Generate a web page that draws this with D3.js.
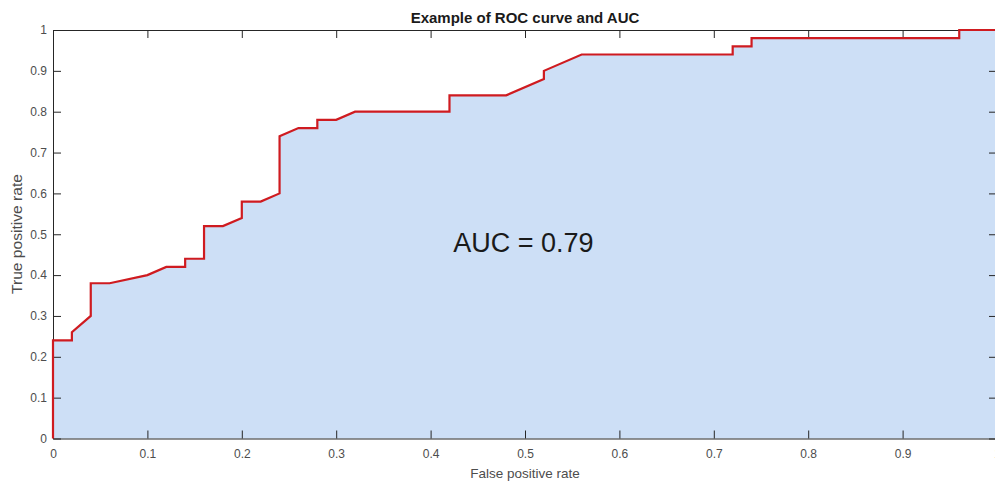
<!DOCTYPE html>
<html>
<head>
<meta charset="utf-8">
<script src="https://cdn.jsdelivr.net/npm/d3@7"></script>
<style>
  body { margin: 0; background: #fff; }
  svg { display: block; font-family: Arial, "Liberation Sans", sans-serif; }
</style>
</head>
<body>
<script>
// ROC curve points (false positive rate, true positive rate)
const fpr = [0, 0, 0.02, 0.02, 0.04, 0.04, 0.06, 0.10, 0.12, 0.14, 0.14, 0.16, 0.16, 0.18, 0.20, 0.20,
             0.22, 0.24, 0.24, 0.26, 0.28, 0.28, 0.30, 0.32, 0.42, 0.42, 0.48, 0.52, 0.52, 0.56, 0.72,
             0.72, 0.74, 0.74, 0.96, 0.96, 1];
const tpr = [0, 0.24, 0.24, 0.26, 0.30, 0.38, 0.38, 0.40, 0.42, 0.42, 0.44, 0.44, 0.52, 0.52, 0.54, 0.58,
             0.58, 0.60, 0.74, 0.76, 0.76, 0.78, 0.78, 0.80, 0.80, 0.84, 0.84, 0.88, 0.90, 0.94, 0.94,
             0.96, 0.96, 0.98, 0.98, 1, 1];
const xTicks = [0, 0.1, 0.2, 0.3, 0.4, 0.5, 0.6, 0.7, 0.8, 0.9, 1];
const yTicks = [0, 0.1, 0.2, 0.3, 0.4, 0.5, 0.6, 0.7, 0.8, 0.9, 1];
const aucLabel = "AUC = 0.79";

const W = 995, H = 484;
const margin = {top: 30, right: -2, bottom: 45.5, left: 53};
const width = W - margin.left - margin.right;
const height = H - margin.top - margin.bottom;

const svg = d3.select("body").append("svg")
  .attr("width", W)
  .attr("height", H);
const g = svg.append("g")
  .attr("transform", "translate(" + margin.left + "," + margin.top + ")");

const x = d3.scaleLinear().domain([0, 1]).range([0, width]);
const y = d3.scaleLinear().domain([0, 1]).range([height, 0]);

const pts = fpr.map((v, i) => [v, tpr[i]]);

// area under the curve
g.append("path")
  .datum(pts)
  .attr("fill", "#cddff6")
  .attr("d", d3.area().x(d => x(d[0])).y0(y(0)).y1(d => y(d[1])));

const fmt = d => d3.format("~g")(d);
const axisColor = "#262626";
const labelColor = "#4d4d4d";

function styleAxis(sel, showText) {
  sel.select(".domain").attr("stroke", axisColor).attr("stroke-width", 1);
  sel.selectAll(".tick line").attr("stroke", axisColor);
  sel.selectAll(".tick text").attr("fill", labelColor).style("font-size", "12px");
  if (!showText) sel.selectAll(".tick text").remove();
}

g.append("g")
  .attr("transform", "translate(0," + height + ")")
  .call(d3.axisBottom(x).tickValues(xTicks).tickFormat(fmt).tickSizeInner(-8).tickSizeOuter(0).tickPadding(11))
  .call(s => styleAxis(s, true));
g.append("g")
  .call(d3.axisTop(x).tickValues(xTicks).tickSizeInner(-8).tickSizeOuter(0))
  .call(s => styleAxis(s, false));
g.append("g")
  .call(d3.axisLeft(y).tickValues(yTicks).tickFormat(fmt).tickSizeInner(-8).tickSizeOuter(0).tickPadding(6))
  .call(s => styleAxis(s, true));
g.append("g")
  .attr("transform", "translate(" + width + ",0)")
  .call(d3.axisRight(y).tickValues(yTicks).tickSizeInner(-8).tickSizeOuter(0))
  .call(s => styleAxis(s, false));

// ROC curve
g.append("path")
  .datum(pts)
  .attr("fill", "none")
  .attr("stroke", "#cf1b20")
  .attr("stroke-width", 2.2)
  .attr("stroke-linejoin", "miter")
  .attr("d", d3.line().x(d => x(d[0])).y(d => y(d[1])));

g.append("text")
  .attr("x", x(0.424))
  .attr("y", y(0.457))
  .attr("fill", "#1a1a1a")
  .style("font-size", "27px")
  .text(aucLabel);

svg.append("text")
  .attr("x", margin.left + width / 2)
  .attr("y", 23)
  .attr("text-anchor", "middle")
  .attr("fill", "#1a1a1a")
  .style("font-size", "15px")
  .style("font-weight", "bold")
  .text("Example of ROC curve and AUC");

svg.append("text")
  .attr("x", margin.left + width / 2)
  .attr("y", 478)
  .attr("text-anchor", "middle")
  .attr("fill", labelColor)
  .style("font-size", "13.5px")
  .text("False positive rate");

svg.append("text")
  .attr("transform", "translate(22," + 234 + ") rotate(-90)")
  .attr("text-anchor", "middle")
  .attr("fill", labelColor)
  .style("font-size", "14px")
  .attr("textLength", 120)
  .attr("lengthAdjust", "spacingAndGlyphs")
  .text("True positive rate");
</script>
</body>
</html>
